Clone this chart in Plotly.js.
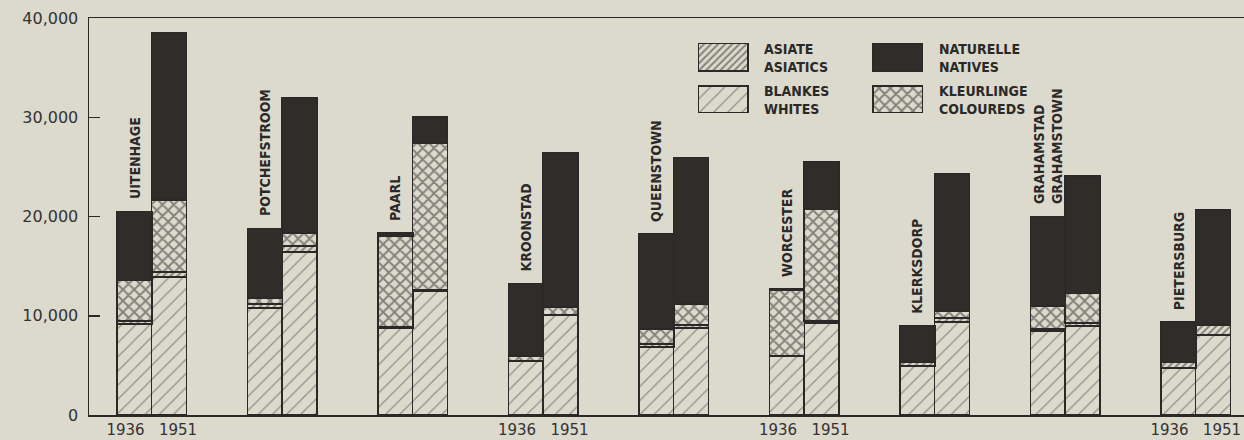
<!DOCTYPE html>
<html>
<head>
<meta charset="utf-8">
<script src="https://cdn.plot.ly/plotly-3.0.1.min.js"></script>
<style>
  html, body { margin: 0; padding: 0; background: #dcd9cd; }
  #chart { width: 1244px; height: 440px; }
</style>
</head>
<body>
<div id="chart"></div>
<script>
// ---------------- DATA ----------------
const cities = ['UITENHAGE', 'POTCHEFSTROOM', 'PAARL', 'KROONSTAD', 'QUEENSTOWN',
                'WORCESTER', 'KLERKSDORP', 'GRAHAMSTAD<br>GRAHAMSTOWN', 'PIETERSBURG'];
const years = ['1936', '1951'];

const whites1936    = [9150, 10750, 8800, 5400, 6850, 5950, 4900, 8500, 4700];
const whites1951    = [13900, 16450, 12500, 10050, 8800, 9250, 9400, 8950, 8050];
const asiatics1936  = [300, 450, 100, 50, 300, 50, 400, 150, 600];
const asiatics1951  = [500, 600, 100, 50, 250, 250, 350, 350, 1000];
const coloureds1936 = [4100, 600, 9100, 500, 1550, 6550, 50, 2350, 0];
const coloureds1951 = [7300, 1250, 14800, 750, 2150, 11200, 750, 2950, 0];
const natives1936   = [6950, 7000, 350, 7300, 9500, 150, 3650, 9000, 4100];
const natives1951   = [16800, 13650, 2650, 15550, 14750, 4800, 13750, 11800, 11600];

const yearLabelGroups = [0, 3, 5, 8];
const yTicks = [0, 10000, 20000, 30000, 40000];

const legendTop    = ['ASIATE<br>ASIATICS', 'NATURELLE<br>NATIVES'];
const legendBottom = ['BLANKES<br>WHITES', 'KLEURLINGE<br>COLOUREDS'];

// ---------------- STYLE ----------------
const BG = '#dcd9cd';
const INK = '#2b2927';
const LABEL_FONT = "'Liberation Sans Narrow', 'DejaVu Sans Condensed', 'Arial Narrow', sans-serif";
const NUM_FONT = "'DejaVu Sans', Verdana, sans-serif";
const barLine = { color: INK, width: 1.8 };

const styles = {
  whites:    { color: BG, line: barLine, pattern: { shape: '/', fgcolor: '#45423e', size: 10, solidity: 0.12, fillmode: 'overlay' } },
  asiatics:  { color: BG, line: barLine, pattern: { shape: '/', fgcolor: INK, size: 5, solidity: 0.4, fillmode: 'overlay' } },
  coloureds: { color: BG, line: barLine, pattern: { shape: 'x', fgcolor: INK, size: 8, solidity: 0.42, fillmode: 'overlay' } },
  natives:   { color: '#2f2d2a', line: barLine }
};

// bar geometry (axis units: one unit per city group)
const OFF = 0.132, BAR_W = 0.268;

const xs = [];
cities.forEach((c, i) => { xs.push(i - OFF, i + OFF); });
const interleave = (a, b) => a.flatMap((v, i) => [v, b[i]]);
const hoverText = cities.flatMap(c => years.map(y => c.replace('<br>', ' / ') + ' ' + y));

const series = [
  ['whites', whites1936, whites1951],
  ['asiatics', asiatics1936, asiatics1951],
  ['coloureds', coloureds1936, coloureds1951],
  ['natives', natives1936, natives1951]
];

const traces = series.map(([key, a, b]) => ({
  type: 'bar',
  name: key,
  x: xs,
  y: interleave(a, b),
  width: BAR_W,
  text: hoverText,
  hovertemplate: '%{text}: %{y}<extra>' + key + '</extra>',
  textposition: 'none',
  marker: styles[key],
  showlegend: false,
  xaxis: 'x', yaxis: 'y'
}));

// legend swatches drawn as bars in a small inset axis (units = pixels of the inset)
const legendLayout = [
  { key: 'asiatics', col: 25, base: 42, h: 28 },
  { key: 'natives', col: 200, base: 42, h: 28 },
  { key: 'whites', col: 25, base: 0, h: 27 },
  { key: 'coloureds', col: 200, base: 0, h: 27 }
];
legendLayout.forEach(s => {
  traces.push({
    type: 'bar', x: [s.col], y: [s.h], base: [s.base], width: 50,
    marker: styles[s.key], showlegend: false, hoverinfo: 'skip',
    xaxis: 'x2', yaxis: 'y2'
  });
});

// ---------------- ANNOTATIONS ----------------
const annotations = [];
cities.forEach((c, i) => {
  const total36 = whites1936[i] + asiatics1936[i] + coloureds1936[i] + natives1936[i];
  annotations.push({
    x: i - OFF, y: total36, xref: 'x', yref: 'y',
    text: c, textangle: -90, showarrow: false,
    xanchor: 'center', yanchor: 'bottom', yshift: 10, align: 'left',
    font: { family: LABEL_FONT, size: 14, color: INK, weight: 'bold' }
  });
});
const legendFont = { family: LABEL_FONT, size: 14, color: INK, weight: 'bold' };
[[legendTop, 0.8992], [legendBottom, 0.7935]].forEach(([row, yy]) => {
  row.forEach((t, j) => {
    annotations.push({
      x: j === 0 ? 0.5827 : 0.7342, y: yy, xref: 'paper', yref: 'paper',
      text: t, showarrow: false, xanchor: 'left', yanchor: 'middle', align: 'left',
      font: legendFont
    });
  });
});

// ---------------- LAYOUT ----------------
const layout = {
  width: 1244, height: 440,
  margin: { l: 89, r: 0, t: 18, b: 25 },
  paper_bgcolor: BG, plot_bgcolor: BG,
  barmode: 'stack', bargap: 0,
  showlegend: false,
  xaxis: {
    type: 'linear', range: [-0.481, 8.370],
    showline: true, mirror: true, linecolor: INK, linewidth: 1.5,
    showgrid: false, zeroline: false,
    tickmode: 'array', tickvals: yearLabelGroups,
    ticktext: yearLabelGroups.map(() => years.join('   ')),
    ticks: '', ticklabelstandoff: 0,
    tickfont: { family: NUM_FONT, size: 15, color: '#333' },
    fixedrange: true
  },
  yaxis: {
    range: [0, 40000],
    showline: true, linecolor: INK, linewidth: 1.5,
    showgrid: false, zeroline: false,
    tickmode: 'array', tickvals: yTicks, tickformat: ',',
    ticks: 'inside', ticklen: 11, tickwidth: 1.5, tickcolor: INK,
    ticklabelstandoff: 6,
    tickfont: { family: NUM_FONT, size: 16, color: '#333' },
    fixedrange: true
  },
  xaxis2: { domain: [0.5273, 0.7221], range: [0, 225], visible: false, anchor: 'y2', fixedrange: true },
  yaxis2: { domain: [0.7607, 0.9370], range: [0, 70], visible: false, anchor: 'x2', fixedrange: true },
  annotations: annotations
};

Plotly.newPlot('chart', traces, layout, { displayModeBar: false, staticPlot: true });
</script>
</body>
</html>
